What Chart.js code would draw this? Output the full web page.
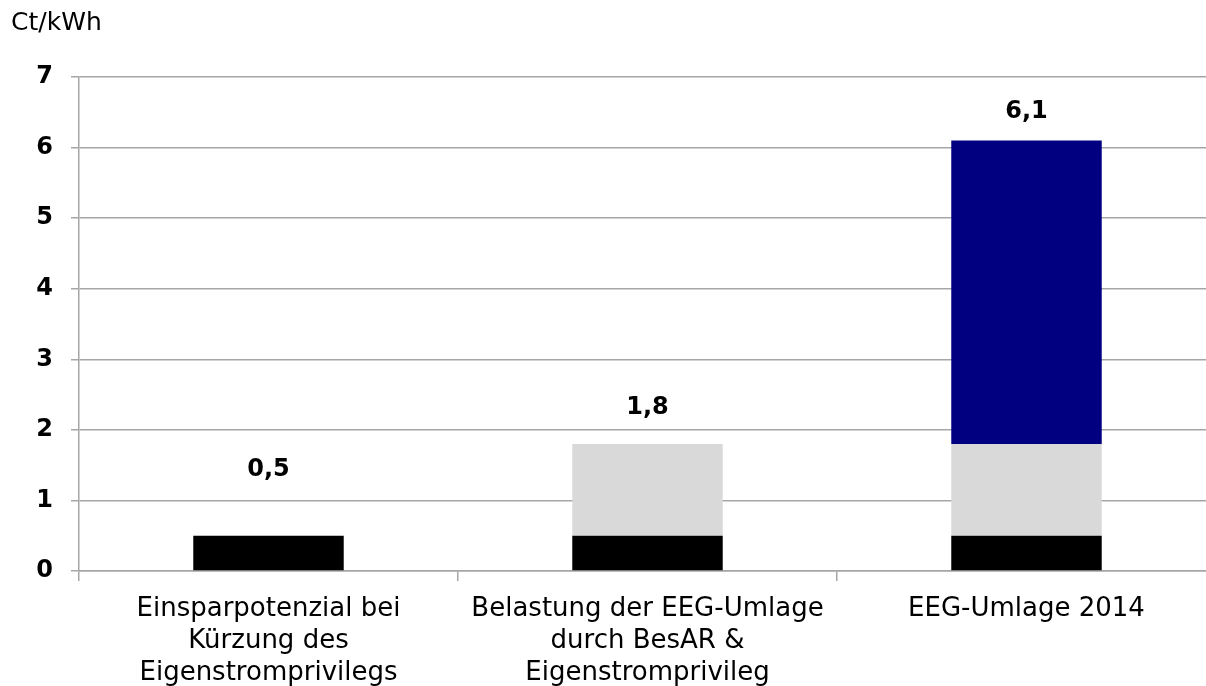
<!DOCTYPE html>
<html>
<head>
<meta charset="utf-8">
<script src="https://cdn.jsdelivr.net/npm/chart.js@4"></script>
<style>
  html, body { margin: 0; padding: 0; background: #fff; overflow: hidden; }
  #wrap { position: absolute; left: 0; top: 0; width: 1216px; height: 686px; }
</style>
</head>
<body>
<div id="wrap"><canvas id="eegChart"></canvas></div>
<script>
// categories (multi-line labels)
const categories = [
    ['Einsparpotenzial bei', 'Kürzung des', 'Eigenstromprivilegs'],
    ['Belastung der EEG-Umlage', 'durch BesAR &', 'Eigenstromprivileg'],
    ['EEG-Umlage 2014']
];
// stacked segments in Ct/kWh
const eigenstrom = [0.5, 0.5, 0.5];
const besar = [0, 1.3, 1.3];
const rest = [0, 0, 4.3];
const totals = [0.5, 1.8, 6.1];
const yTicks = [0, 1, 2, 3, 4, 5, 6, 7];

const fontFam = '"DejaVu Sans", Verdana, sans-serif';

// draws the unit label and the total labels above each bar
const labelPlugin = {
    id: 'labelPlugin',
    afterDatasetsDraw(chart) {
        const ctx = chart.ctx;
        const x = chart.scales.x, y = chart.scales.y;
        const lift = [0.93, 0.52, 0.41]; // label distance above bar, in axis units
        ctx.save();
        ctx.fillStyle = '#000';
        ctx.font = 'bold 24px ' + fontFam;
        ctx.textAlign = 'center';
        ctx.textBaseline = 'middle';
        totals.forEach(function(t, i) {
            ctx.fillText(t.toFixed(1).replace('.', ','), x.getPixelForValue(i), y.getPixelForValue(t + lift[i]));
        });
        ctx.font = '25px ' + fontFam;
        ctx.textAlign = 'left';
        ctx.fillText('Ct/kWh', 11, 23);
        ctx.restore();
    }
};

new Chart(document.getElementById('eegChart').getContext('2d'), {
    type: 'bar',
    data: {
        labels: categories,
        datasets: [
            { label: 'Eigenstrom', data: eigenstrom, backgroundColor: '#000000' },
            { label: 'BesAR', data: besar, backgroundColor: '#D9D9D9' },
            { label: 'Rest', data: rest, backgroundColor: '#000080' }
        ]
    },
    options: {
        responsive: true,
        maintainAspectRatio: false,
        animation: false,
        layout: { padding: { top: 77, left: 0, right: 0, bottom: 0 } },
        datasets: { bar: { categoryPercentage: 1, barPercentage: 0.397 } },
        plugins: { legend: { display: false }, tooltip: { enabled: false } },
        scales: {
            x: {
                stacked: true,
                grid: { offset: true, drawOnChartArea: false, color: '#A6A6A6', tickLength: 10, lineWidth: 1.5 },
                border: { color: '#A6A6A6', width: 1.5 },
                ticks: { color: '#000', font: { family: fontFam, size: 26, lineHeight: 1.23 }, padding: 12, maxRotation: 0, autoSkip: false },
                afterFit(scale) { scale.height = 115; }
            },
            y: {
                stacked: true,
                min: 0,
                max: 7,
                afterBuildTicks(scale) { scale.ticks = yTicks.map(v => ({ value: v })); },
                grid: { color: '#A6A6A6', tickLength: 8, lineWidth: 1.5 },
                border: { color: '#A6A6A6', width: 1.5 },
                ticks: { color: '#000', font: { family: fontFam, size: 24, weight: 'bold' }, padding: 18 },
                afterFit(scale) { scale.width = 79; }
            }
        }
    },
    plugins: [labelPlugin]
});
</script>
</body>
</html>
